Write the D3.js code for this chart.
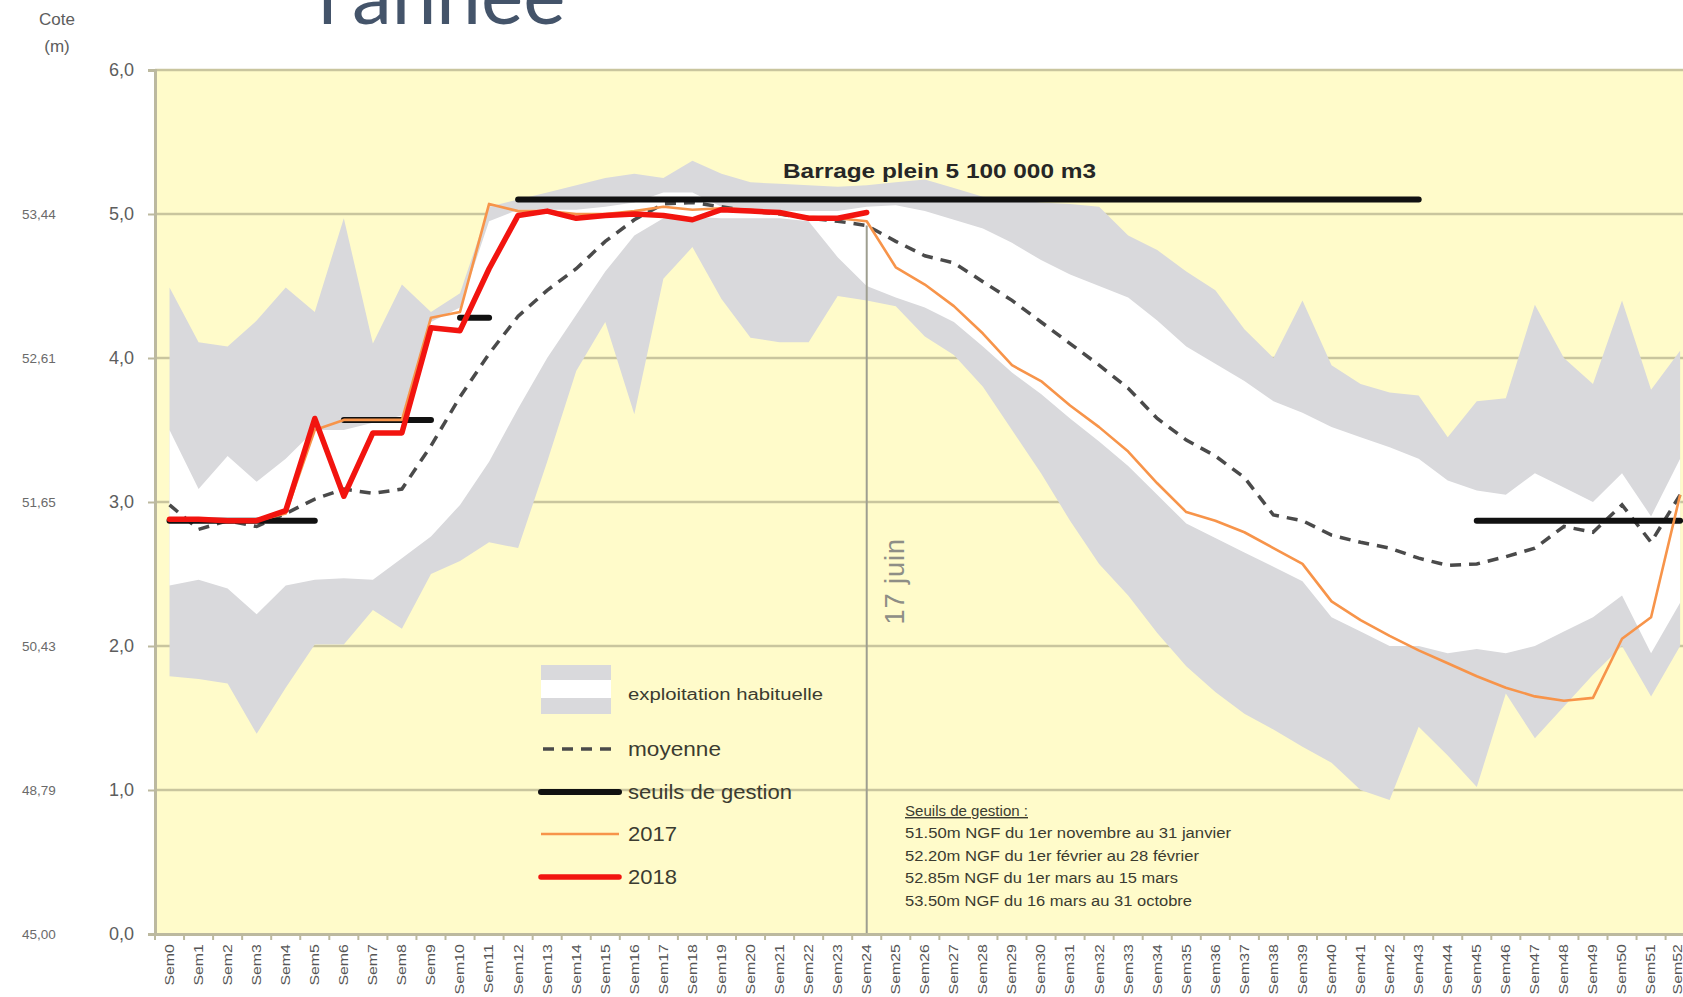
<!DOCTYPE html>
<html lang="fr">
<head>
<meta charset="utf-8">
<title>Remplissage du barrage</title>
<script src="https://cdn.jsdelivr.net/npm/d3@7"></script>
<style>
	html, body { margin: 0; padding: 0; background: #fff; }
	svg { display: block; font-family: 'Liberation Sans', Arial, sans-serif; }
</style>
</head>
<body>
<div id="chart"></div>
<script>
// semaines
const weeks = [
	'Sem0', 'Sem1', 'Sem2', 'Sem3', 'Sem4', 'Sem5', 'Sem6', 'Sem7', 'Sem8', 'Sem9',
	'Sem10', 'Sem11', 'Sem12', 'Sem13', 'Sem14', 'Sem15', 'Sem16', 'Sem17', 'Sem18', 'Sem19',
	'Sem20', 'Sem21', 'Sem22', 'Sem23', 'Sem24', 'Sem25', 'Sem26', 'Sem27', 'Sem28', 'Sem29',
	'Sem30', 'Sem31', 'Sem32', 'Sem33', 'Sem34', 'Sem35', 'Sem36', 'Sem37', 'Sem38', 'Sem39',
	'Sem40', 'Sem41', 'Sem42', 'Sem43', 'Sem44', 'Sem45', 'Sem46', 'Sem47', 'Sem48', 'Sem49',
	'Sem50', 'Sem51', 'Sem52'
];

const yTicks = [0, 1, 2, 3, 4, 5, 6];
const coteLabels = ['45,00', '48,79', '50,43', '51,65', '52,61', '53,44'];

// exploitation habituelle : enveloppe grise (min / max) et bande blanche
const bandMax = [
	4.49, 4.11, 4.08, 4.26, 4.49, 4.32, 4.97, 4.1, 4.51, 4.32,
	4.45, 5.05, 5.1, 5.15, 5.2, 5.25, 5.28, 5.25, 5.37, 5.28,
	5.22, 5.21, 5.2, 5.19, 5.2, 5.22, 5.24, 5.18, 5.12, 5.1,
	5.08, 5.07, 5.05, 4.85, 4.75, 4.6, 4.47, 4.2, 4.0, 4.4,
	3.95, 3.82, 3.76, 3.74, 3.45, 3.7, 3.72, 4.37, 4.0, 3.82,
	4.4, 3.78, 4.05
];
const upperQ = [
	3.5, 3.09, 3.32, 3.14, 3.3, 3.5, 3.5, 3.55, 3.6, 4.25,
	4.35, 4.95, 5.03, 5.03, 5.03, 5.05, 5.08, 5.15, 5.15, 5.05,
	5.02, 5.02, 5.02, 5.02, 5.05, 5.06, 5.02, 4.96, 4.9, 4.8,
	4.68, 4.58, 4.5, 4.42, 4.26, 4.08, 3.96, 3.84, 3.7, 3.62,
	3.52, 3.45, 3.38, 3.3, 3.15, 3.08, 3.05, 3.2, 3.1, 3.0,
	3.2, 2.9, 3.3
];
const lowerQ = [
	2.42, 2.46, 2.4, 2.22, 2.42, 2.46, 2.47, 2.46, 2.61, 2.76,
	2.98, 3.28, 3.65, 4.0, 4.3, 4.6, 4.85, 4.97, 4.98, 4.97,
	4.97, 4.97, 4.95, 4.7, 4.5, 4.42, 4.35, 4.25, 4.08, 3.9,
	3.75, 3.58, 3.42, 3.25, 3.05, 2.85, 2.75, 2.65, 2.55, 2.45,
	2.2, 2.1, 2.0, 2.0, 1.95, 1.98, 1.95, 2.0, 2.1, 2.2,
	2.35, 1.95, 2.3
];
const bandMin = [
	1.79, 1.77, 1.74, 1.39, 1.71, 2.01, 2.01, 2.25, 2.12, 2.5,
	2.59, 2.72, 2.68, 3.28, 3.91, 4.25, 3.61, 4.55, 4.77, 4.41,
	4.14, 4.11, 4.11, 4.43, 4.4, 4.36, 4.15, 4.02, 3.8, 3.5,
	3.2, 2.87, 2.57, 2.35, 2.09, 1.86, 1.68, 1.53, 1.42, 1.3,
	1.19, 1.0, 0.93, 1.44, 1.24, 1.02, 1.67, 1.36, 1.58, 1.8,
	2.0, 1.65, 2.0
];

const moyenne = [
	2.98, 2.81, 2.87, 2.83, 2.92, 3.02, 3.09, 3.06, 3.09, 3.39,
	3.73, 4.03, 4.29, 4.47, 4.62, 4.81, 4.96, 5.07, 5.08, 5.05,
	5.02, 5.0, 4.97, 4.95, 4.92, 4.81, 4.71, 4.66, 4.53, 4.4,
	4.25, 4.1, 3.95, 3.79, 3.58, 3.43, 3.32, 3.17, 2.91, 2.87,
	2.77, 2.72, 2.68, 2.61, 2.56, 2.57, 2.62, 2.68, 2.83, 2.79,
	2.98, 2.72, 3.05
];

const y2017 = [
	2.88, 2.88, 2.87, 2.87, 2.92, 3.5, 3.57, 3.57, 3.57, 4.28,
	4.32, 5.07, 5.02, 5.02, 5.0, 5.0, 5.02, 5.05, 5.03, 5.04,
	5.03, 5.0, 4.98, 4.97, 4.95, 4.63, 4.51, 4.36, 4.17, 3.95,
	3.84, 3.67, 3.52, 3.35, 3.13, 2.93, 2.87, 2.79, 2.68, 2.57,
	2.31, 2.18, 2.07, 1.97, 1.88, 1.79, 1.71, 1.65, 1.62, 1.64,
	2.05, 2.2, 3.05
];

// 2018 : jusqu'au 17 juin
const y2018 = [
	2.88, 2.88, 2.87, 2.87, 2.94, 3.58, 3.04, 3.48, 3.48, 4.21,
	4.19, 4.62, 4.99, 5.02, 4.97, 4.99, 5.0, 4.99, 4.96, 5.03,
	5.02, 5.01, 4.97, 4.97, 5.01
];

// seuils de gestion
const seuilStart = ['Sem0', 'Sem6', 'Sem10', 'Sem12', 'Sem45'];
const seuilEnd = ['Sem5', 'Sem9', 'Sem11', 'Sem43', 'Sem52'];
const seuilValue = [2.87, 3.57, 4.28, 5.1, 2.87];

const seuilNotes = [
	'51.50m NGF du 1er novembre au 31 janvier',
	'52.20m NGF du 1er février au 28 février',
	'52.85m NGF du 1er mars au 15 mars',
	'53.50m NGF du 16 mars au 31 octobre'
];

const markerWeek = 'Sem24';
const markerTop = 4.92;

const width = 1683;
const height = 997;

const svg = d3.select('#chart')
	.append('svg')
	.attr('width', width)
	.attr('height', height);

const x = d3.scaleBand()
	.domain(weeks)
	.range([155, 155 + weeks.length * 29.05])
	.padding(0);

const y = d3.scaleLinear()
	.domain([0, 6])
	.range([934, 70]);

const cx = (w) => x(w) + x.bandwidth() / 2;

const plot = svg.append('g');

// fond jaune
plot.append('rect')
	.attr('x', x.range()[0])
	.attr('y', y(6))
	.attr('width', width - x.range()[0])
	.attr('height', y(0) - y(6))
	.attr('fill', '#fffbca');

// grille
plot.selectAll('.grid')
	.data(yTicks.slice(1))
	.enter()
	.append('line')
	.attr('class', 'grid')
	.attr('x1', x.range()[0])
	.attr('x2', width)
	.attr('y1', (d) => y(d))
	.attr('y2', (d) => y(d))
	.attr('stroke', '#c9c59e')
	.attr('stroke-width', 2.5);

const area = (lo, hi) => d3.area()
	.x((d, i) => cx(weeks[i]))
	.y0((d, i) => y(lo[i]))
	.y1((d, i) => y(hi[i]));

plot.append('path')
	.datum(weeks)
	.attr('d', area(bandMin, bandMax))
	.attr('fill', '#d9d9dc');

plot.append('path')
	.datum(weeks)
	.attr('d', area(lowerQ, upperQ))
	.attr('fill', '#ffffff');

// 17 juin
plot.append('line')
	.attr('x1', cx(markerWeek))
	.attr('x2', cx(markerWeek))
	.attr('y1', y(0))
	.attr('y2', y(markerTop))
	.attr('stroke', '#9e9e90')
	.attr('stroke-width', 2);

plot.append('text')
	.attr('transform', `translate(${cx(markerWeek) + 37},${y(2.45)}) rotate(-90)`)
	.attr('text-anchor', 'middle')
	.attr('font-size', 27)
	.attr('letter-spacing', 1)
	.attr('fill', '#8e8e86')
	.text('17 juin');

const line = (values) => d3.line()
	.x((d, i) => cx(weeks[i]))
	.y((d) => y(d))(values);

plot.append('path')
	.attr('d', line(moyenne))
	.attr('fill', 'none')
	.attr('stroke', '#4a4a4a')
	.attr('stroke-width', 3.5)
	.attr('stroke-dasharray', '11,8');

plot.selectAll('.seuil')
	.data(seuilValue)
	.enter()
	.append('line')
	.attr('class', 'seuil')
	.attr('x1', (d, i) => cx(seuilStart[i]))
	.attr('x2', (d, i) => cx(seuilEnd[i]))
	.attr('y1', (d) => y(d))
	.attr('y2', (d) => y(d))
	.attr('stroke', '#111')
	.attr('stroke-width', 6)
	.attr('stroke-linecap', 'round');

plot.append('path')
	.attr('d', line(y2017))
	.attr('fill', 'none')
	.attr('stroke', '#f7944a')
	.attr('stroke-width', 2.6)
	.attr('stroke-linejoin', 'round');

plot.append('path')
	.attr('d', line(y2018))
	.attr('fill', 'none')
	.attr('stroke', '#f2140f')
	.attr('stroke-width', 5.5)
	.attr('stroke-linejoin', 'round')
	.attr('stroke-linecap', 'round');

// axes
const axisColor = '#bcb99f';

const yAxis = svg.append('g')
	.attr('transform', `translate(${x.range()[0]},0)`)
	.call(
		d3.axisLeft(y)
			.tickValues(yTicks)
			.tickSize(7)
			.tickPadding(14)
			.tickFormat((d) => d.toFixed(1).replace('.', ','))
	);

yAxis.select('.domain')
	.attr('stroke', axisColor)
	.attr('stroke-width', 3);

yAxis.selectAll('.tick line')
	.attr('stroke', axisColor)
	.attr('stroke-width', 2);

yAxis.selectAll('.tick text')
	.attr('font-size', 18)
	.attr('font-family', 'Liberation Sans, Arial, sans-serif')
	.attr('fill', '#5d5d5d');

const xAxis = svg.append('g')
	.attr('transform', `translate(0,${y(0)})`)
	.call(d3.axisBottom(x).tickSize(0));

xAxis.select('.domain')
	.attr('stroke', axisColor)
	.attr('stroke-width', 3);

// libellés étirés dans le sens du texte, comme dans l'original
xAxis.selectAll('.tick text')
	.attr('transform', (d, i) => `translate(${i === weeks.length - 1 ? -3 : 0},0) rotate(-90) scale(1.27,1)`)
	.attr('x', -8)
	.attr('y', 0)
	.attr('dy', '0.35em')
	.attr('text-anchor', 'end')
	.attr('font-size', 12.5)
	.attr('font-family', 'Liberation Sans, Arial, sans-serif')
	.attr('fill', '#555');

xAxis.selectAll('.bound')
	.data(weeks)
	.enter()
	.append('line')
	.attr('class', 'bound')
	.attr('x1', (d) => x(d))
	.attr('x2', (d) => x(d))
	.attr('y1', 0)
	.attr('y2', 6)
	.attr('stroke', axisColor)
	.attr('stroke-width', 2);

// cotes NGF
svg.selectAll('.cote')
	.data(coteLabels)
	.enter()
	.append('text')
	.attr('class', 'cote')
	.attr('x', 39)
	.attr('y', (d, i) => y(i))
	.attr('dy', '0.35em')
	.attr('text-anchor', 'middle')
	.attr('font-size', 13.5)
	.attr('fill', '#6a6a6a')
	.text((d) => d);

svg.append('text')
	.attr('x', 57)
	.attr('y', 25)
	.attr('text-anchor', 'middle')
	.attr('font-size', 17)
	.attr('fill', '#5d5d5d')
	.text('Cote');

svg.append('text')
	.attr('x', 57)
	.attr('y', 52)
	.attr('text-anchor', 'middle')
	.attr('font-size', 17)
	.attr('fill', '#5d5d5d')
	.text('(m)');

// titre (rogné en haut)
svg.append('text')
	.attr('x', 318)
	.attr('y', 24)
	.attr('font-size', 80)
	.attr('font-family', 'Lato, Open Sans, sans-serif')
	.attr('fill', '#44546a')
	.text('l\u2019année');

svg.append('text')
	.attr('x', 783)
	.attr('y', 178)
	.attr('font-size', 21)
	.attr('font-weight', 'bold')
	.attr('textLength', 313)
	.attr('lengthAdjust', 'spacingAndGlyphs')
	.attr('fill', '#262626')
	.text('Barrage plein 5 100 000 m3');

// légende
const legend = svg.append('g');
const legX = 541;
const legW = 78;
const textX = 628;

legend.append('rect')
	.attr('x', legX).attr('y', 665)
	.attr('width', 70).attr('height', 49)
	.attr('fill', '#d9d9dc');

legend.append('rect')
	.attr('x', legX).attr('y', 680)
	.attr('width', 70).attr('height', 18)
	.attr('fill', '#ffffff');

const legendItems = [
	{ label: 'exploitation habituelle', y: 694, size: 16, len: 195 },
	{ label: 'moyenne', y: 749, size: 21, len: 93 },
	{ label: 'seuils de gestion', y: 792, size: 21, len: 164 },
	{ label: '2017', y: 834, size: 21, len: 49 },
	{ label: '2018', y: 877, size: 21, len: 49 }
];

legend.selectAll('.leg-text')
	.data(legendItems)
	.enter()
	.append('text')
	.attr('class', 'leg-text')
	.attr('x', textX)
	.attr('y', (d) => d.y)
	.attr('dy', '0.35em')
	.attr('font-size', (d) => d.size)
	.attr('textLength', (d) => d.len)
	.attr('lengthAdjust', 'spacingAndGlyphs')
	.attr('fill', '#3b3b30')
	.text((d) => d.label);

legend.append('line')
	.attr('x1', legX + 2).attr('x2', legX + legW)
	.attr('y1', 749).attr('y2', 749)
	.attr('stroke', '#4a4a4a')
	.attr('stroke-width', 3.5)
	.attr('stroke-dasharray', '11,8');

legend.append('line')
	.attr('x1', legX).attr('x2', legX + legW)
	.attr('y1', 792).attr('y2', 792)
	.attr('stroke', '#111')
	.attr('stroke-width', 6)
	.attr('stroke-linecap', 'round');

legend.append('line')
	.attr('x1', legX).attr('x2', legX + legW)
	.attr('y1', 834).attr('y2', 834)
	.attr('stroke', '#f7944a')
	.attr('stroke-width', 2.6);

legend.append('line')
	.attr('x1', legX).attr('x2', legX + legW)
	.attr('y1', 877).attr('y2', 877)
	.attr('stroke', '#f2140f')
	.attr('stroke-width', 5.5)
	.attr('stroke-linecap', 'round');

// notes seuils
const noteLen = [326, 294, 273, 287];

const notes = svg.append('g')
	.attr('font-size', 14)
	.attr('fill', '#3b3b30');

notes.append('text')
	.attr('x', 905)
	.attr('y', 816)
	.attr('textLength', 123)
	.attr('lengthAdjust', 'spacingAndGlyphs')
	.attr('text-decoration', 'underline')
	.text('Seuils de gestion :');

notes.selectAll('.note')
	.data(seuilNotes)
	.enter()
	.append('text')
	.attr('class', 'note')
	.attr('x', 905)
	.attr('y', (d, i) => 838 + i * 22.5)
	.attr('textLength', (d, i) => noteLen[i])
	.attr('lengthAdjust', 'spacingAndGlyphs')
	.text((d) => d);
</script>
</body>
</html>
